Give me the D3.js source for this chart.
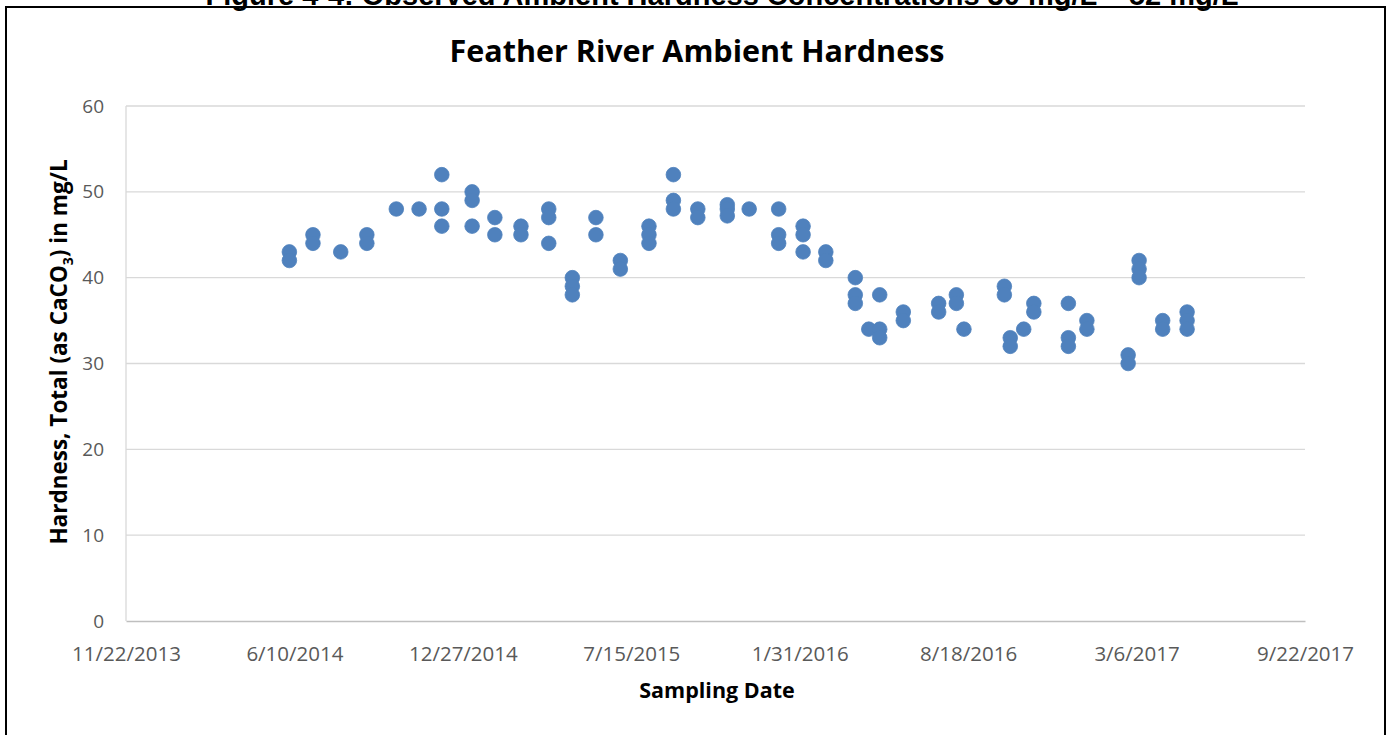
<!DOCTYPE html>
<html>
<head>
<meta charset="utf-8">
<script src="https://cdn.jsdelivr.net/npm/d3@7"></script>
<style>
  html, body { margin: 0; padding: 0; background: #fff; }
  svg { display: block; }
</style>
</head>
<body>
<svg id="chart" width="1391" height="735"></svg>
<script>
// ---- data ----
const sampleDates = [
  "2014-06-04","2014-06-04",
  "2014-07-02","2014-07-02",
  "2014-08-04",
  "2014-09-04","2014-09-04",
  "2014-10-09",
  "2014-11-05",
  "2014-12-02","2014-12-02","2014-12-02",
  "2015-01-07","2015-01-07","2015-01-07",
  "2015-02-03","2015-02-03",
  "2015-03-06","2015-03-06",
  "2015-04-08","2015-04-08","2015-04-08",
  "2015-05-06","2015-05-06","2015-05-06",
  "2015-06-03","2015-06-03",
  "2015-07-02","2015-07-02",
  "2015-08-05","2015-08-05","2015-08-05",
  "2015-09-03","2015-09-03","2015-09-03",
  "2015-10-02","2015-10-02",
  "2015-11-06","2015-11-06","2015-11-06",
  "2015-12-02",
  "2016-01-06","2016-01-06","2016-01-06",
  "2016-02-04","2016-02-04","2016-02-04",
  "2016-03-02","2016-03-02",
  "2016-04-06","2016-04-06","2016-04-06",
  "2016-04-22",
  "2016-05-05","2016-05-05","2016-05-05",
  "2016-06-02","2016-06-02",
  "2016-07-14","2016-07-14",
  "2016-08-04","2016-08-04",
  "2016-08-13",
  "2016-09-30","2016-09-30",
  "2016-10-07","2016-10-07",
  "2016-10-23",
  "2016-11-04","2016-11-04",
  "2016-12-15","2016-12-15","2016-12-15",
  "2017-01-06","2017-01-06",
  "2017-02-24","2017-02-24",
  "2017-03-09","2017-03-09","2017-03-09",
  "2017-04-06","2017-04-06",
  "2017-05-05","2017-05-05","2017-05-05"
];
const hardness = [
  43,42,
  45,44,
  43,
  45,44,
  48,
  48,
  52,48,46,
  50,49,46,
  47,45,
  46,45,
  48,47,44,
  40,39,38,
  47,45,
  42,41,
  46,45,44,
  52,49,48,
  48,47,
  48.5,48,47.2,
  48,
  48,45,44,
  46,45,43,
  43,42,
  40,38,37,
  34,
  38,34,33,
  36,35,
  37,36,
  38,37,
  34,
  39,38,
  33,32,
  34,
  37,36,
  37,33,32,
  35,34,
  31,30,
  42,41,40,
  35,34,
  36,35,34
];
const xTickLabels = ["11/22/2013","6/10/2014","12/27/2014","7/15/2015","1/31/2016","8/18/2016","3/6/2017","9/22/2017"];
const yTickValues = [0,10,20,30,40,50,60];

const chartTitle = "Feather River Ambient Hardness";
const figureCaption = "Figure 4-4: Observed Ambient Hardness Concentrations 30 mg/L \u2013 52 mg/L";
const xAxisTitle = "Sampling Date";

// ---- layout ----
const svg = d3.select("#chart");
const plot = { left: 126, right: 1305, top: 106, bottom: 621 };

const parseMDY = d3.timeParse("%m/%d/%Y");
const parseISO = d3.timeParse("%Y-%m-%d");
const xTicks = xTickLabels.map(parseMDY);
const fmt = d => (d.getMonth()+1) + "/" + d.getDate() + "/" + d.getFullYear();

const x = d3.scaleTime().domain([xTicks[0], xTicks[xTicks.length-1]]).range([plot.left, plot.right]);
const y = d3.scaleLinear().domain([0, 60]).range([plot.bottom, plot.top]);

// frame
svg.append("rect").attr("x", 6).attr("y", 7).attr("width", 1379).attr("height", 760)
  .attr("fill", "none").attr("stroke", "#000").attr("stroke-width", 2);

// figure caption (cut off at top in the reference)
svg.append("text").attr("x", 722).attr("y", 5).attr("text-anchor", "middle")
  .attr("font-family", "Liberation Sans, Arial, sans-serif").attr("font-weight", "bold")
  .attr("font-size", 29).attr("fill", "#000").text(figureCaption);

// gridlines
svg.append("g").selectAll("line").data(yTickValues.filter(v => v > 0)).join("line")
  .attr("x1", plot.left).attr("x2", plot.right)
  .attr("y1", d => y(d)).attr("y2", d => y(d))
  .attr("stroke", "#D9D9D9").attr("stroke-width", 1.3);

// left axis line
svg.append("line").attr("x1", plot.left).attr("x2", plot.left).attr("y1", plot.top).attr("y2", plot.bottom)
  .attr("stroke", "#D9D9D9").attr("stroke-width", 1.3);

// y axis
const yAxis = d3.axisLeft(y).tickValues(yTickValues).tickSize(0).tickPadding(22);
const gy = svg.append("g").attr("transform", `translate(${plot.left},0)`).call(yAxis);
gy.select(".domain").remove();
gy.selectAll("text").attr("font-family", "Open Sans, sans-serif").attr("font-size", 19).attr("fill", "#595959");

// x axis
const xAxis = d3.axisBottom(x).tickValues(xTicks).tickFormat(fmt).tickSize(0).tickPadding(25);
const gx = svg.append("g").attr("transform", `translate(0,${plot.bottom})`).call(xAxis);
gx.select(".domain").attr("stroke", "#BFBFBF").attr("stroke-width", 1.3);
gx.selectAll("text").attr("font-family", "Open Sans, sans-serif").attr("font-size", 20.5).attr("fill", "#595959");

// points
const pts = sampleDates.map((d, i) => ({ date: parseISO(d), v: hardness[i] }));
svg.append("g").selectAll("circle").data(pts).join("circle")
  .attr("cx", d => x(d.date)).attr("cy", d => y(d.v)).attr("r", 7.3)
  .attr("fill", "#4F81BD").attr("stroke", "#4F81BD").attr("stroke-width", 0.8);

// chart title
svg.append("text").attr("x", 697).attr("y", 62).attr("text-anchor", "middle")
  .attr("font-family", "Open Sans, sans-serif").attr("font-weight", "bold")
  .attr("font-size", 30.5).attr("fill", "#000").text(chartTitle);

// x axis title
svg.append("text").attr("x", 717).attr("y", 698).attr("text-anchor", "middle")
  .attr("font-family", "Open Sans, sans-serif").attr("font-weight", "bold")
  .attr("font-size", 21.5).attr("fill", "#000").text(xAxisTitle);

// y axis title with subscript
const yt = svg.append("text").attr("transform", "translate(67,352) rotate(-90)").attr("text-anchor", "middle")
  .attr("font-family", "Open Sans, sans-serif").attr("font-weight", "bold")
  .attr("font-size", 22.5).attr("fill", "#000");
yt.append("tspan").text("Hardness, Total (as CaCO");
yt.append("tspan").attr("font-size", 14).attr("dy", 6).text("3");
yt.append("tspan").attr("dy", -6).text(") in mg/L");
</script>
</body>
</html>
